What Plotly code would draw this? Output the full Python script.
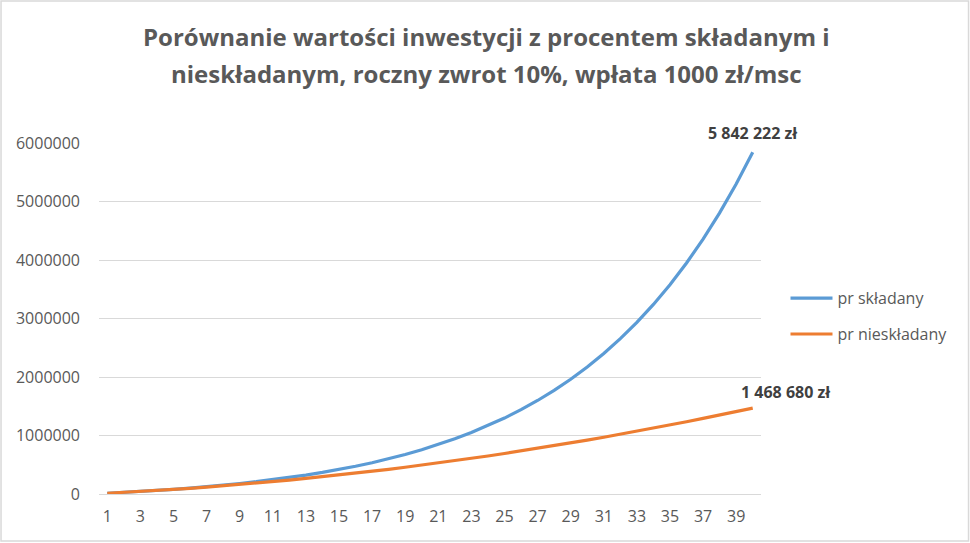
import plotly.graph_objects as go

years = list(range(1, 41))
compound = [13200, 27720, 43692, 61261, 80587, 101846, 125231, 150954, 179249, 210374,
            244611, 282273, 323700, 369270, 419397, 474536, 535190, 601909, 675300, 756030,
            844833, 942516, 1049968, 1168165, 1298181, 1441199, 1598519, 1771571, 1961928, 2171321,
            2401653, 2655019, 2933720, 3240292, 3577522, 3948474, 4356521, 4805373, 5299111, 5842222]
simple = [13206, 27618, 43236, 60060, 78090, 97326, 117768, 139416, 162270, 186330,
          211596, 238068, 265746, 294630, 324720, 356016, 388518, 422226, 457140, 493260,
          530586, 569118, 608856, 649800, 691950, 735306, 779868, 825636, 872610, 920790,
          970176, 1020768, 1072566, 1125570, 1179780, 1235196, 1291818, 1349646, 1408680, 1468680]
series_names = ["pr składany", "pr nieskładany"]
end_labels = ["5 842 222 zł", "1 468 680 zł"]
title_lines = ["Porównanie wartości inwestycji z procentem składanym i",
               "nieskładanym, roczny zwrot 10%, wpłata 1000 zł/msc"]
x_ticks = list(range(1, 41, 2))
y_ticks = [0, 1000000, 2000000, 3000000, 4000000, 5000000, 6000000]

FONT = "Open Sans"
GREY = "#595959"

fig = go.Figure()
fig.add_trace(go.Scatter(x=years, y=compound, mode="lines", name=series_names[0],
                         line=dict(color="#5B9BD5", width=3.2), legendgroup="a"))
fig.add_trace(go.Scatter(x=years, y=simple, mode="lines", name=series_names[1],
                         line=dict(color="#ED7D31", width=3.2), legendgroup="b"))

fig.add_annotation(x=years[-1], y=compound[-1], text="<b>" + end_labels[0] + "</b>",
                   showarrow=False, xref="x", yref="y", xanchor="center", yanchor="middle",
                   yshift=19, font=dict(family=FONT, size=16, color="#404040"))
fig.add_annotation(x=years[-1], y=simple[-1], text="<b>" + end_labels[1] + "</b>",
                   showarrow=False, xref="x", yref="y", xanchor="left", yanchor="middle",
                   xshift=-14, yshift=16, font=dict(family=FONT, size=16, color="#404040"))

# two-line title
fig.add_annotation(x=0.5846, y=1.302, xref="paper", yref="paper", showarrow=False,
                   text="<b>" + title_lines[0] + "</b>", xanchor="center", yanchor="middle",
                   font=dict(family=FONT, size=24, color=GREY))
fig.add_annotation(x=0.5846, y=1.1966, xref="paper", yref="paper", showarrow=False,
                   text="<b>" + title_lines[1] + "</b>", xanchor="center", yanchor="middle",
                   font=dict(family=FONT, size=24, color=GREY))

# outer chart border
fig.add_shape(type="rect", xref="paper", yref="paper",
              x0=-0.148, x1=1.3135, y0=-0.1339, y1=1.4046,
              line=dict(color="#D9D9D9", width=1.5), fillcolor="rgba(0,0,0,0)", layer="below")

fig.update_layout(
    width=970, height=543,
    margin=dict(l=99, r=209, t=143, b=49),
    paper_bgcolor="white", plot_bgcolor="white",
    font=dict(family=FONT, size=16, color=GREY),
    legend=dict(x=1.037, y=0.606, xanchor="left", yanchor="top", itemwidth=42,
                font=dict(family=FONT, size=16, color=GREY),
                traceorder="grouped", tracegroupgap=12, bgcolor="rgba(0,0,0,0)"),
    showlegend=True,
)
fig.update_xaxes(range=[0.5, 40.5], tickmode="array", tickvals=x_ticks,
                 ticktext=[str(v) for v in x_ticks], showgrid=False, zeroline=False,
                 showline=True, linecolor="#D9D9D9", linewidth=1, ticks="",
                 ticklabelstandoff=8,
                 tickfont=dict(family=FONT, size=16, color=GREY))
fig.update_yaxes(range=[0, 6000000], tickmode="array", tickvals=y_ticks,
                 ticktext=[str(v) for v in y_ticks], showgrid=True, gridcolor="#D9D9D9",
                 gridwidth=1, zeroline=False, showline=False, ticks="", ticklen=0,
                 ticklabelstandoff=18,
                 tickfont=dict(family=FONT, size=16, color=GREY))

fig.write_html("out.html", config={"displayModeBar": False},
               post_script="document.body.style.margin='0px';")
